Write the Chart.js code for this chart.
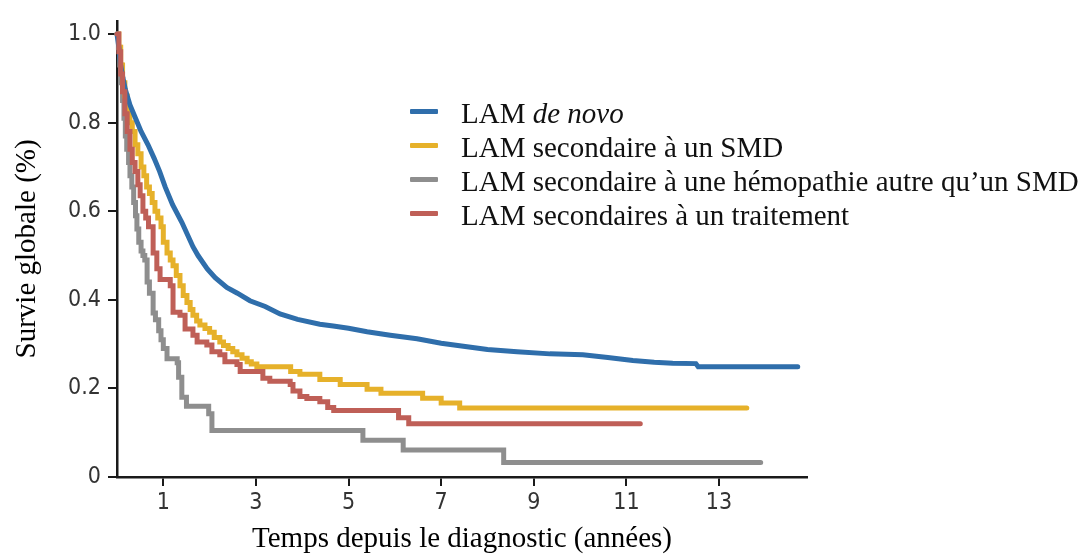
<!DOCTYPE html>
<html lang="fr">
<head>
<meta charset="utf-8">
<title>Survie globale LAM</title>
<script src="https://cdn.jsdelivr.net/npm/chart.js@4.4.1/dist/chart.umd.min.js"></script>
<style>
  html, body { margin: 0; padding: 0; background: #fff; }
  #wrap { position: relative; width: 1089px; height: 559px; }
  #legend { position: absolute; left: 410px; top: 96px; font-family: "Liberation Serif", "Times New Roman", serif; font-size: 29px; color: #111; }
  #legend .row { display: flex; align-items: center; height: 34px; white-space: nowrap; }
  #legend .mark { width: 28px; height: 5px; margin-right: 23px; margin-top: -3px; border-radius: 1px; }
</style>
</head>
<body>
<div id="wrap">
  <canvas id="survChart"></canvas>
  <div id="legend"></div>
</div>
<script>
// time (years) / survival
const deNovoT = [0, 0.04, 0.08, 0.13, 0.18, 0.28, 0.4, 0.52, 0.67, 0.8, 0.92, 1.04, 1.2, 1.4, 1.64, 1.75, 1.95, 2.12, 2.37, 2.6, 2.87, 3.2, 3.52, 3.9, 4.38, 4.67, 5.0, 5.4, 5.9, 6.48, 7.0, 7.56, 8.0, 8.64, 9.35, 10.06, 10.6, 11.14, 11.6, 12.0, 12.5, 12.55, 14.7];
const deNovoS = [1.0, 0.97, 0.93, 0.9, 0.875, 0.84, 0.81, 0.78, 0.75, 0.72, 0.69, 0.655, 0.615, 0.575, 0.52, 0.5, 0.47, 0.45, 0.428, 0.415, 0.398, 0.385, 0.368, 0.356, 0.345, 0.341, 0.336, 0.328, 0.32, 0.312, 0.302, 0.294, 0.288, 0.283, 0.278, 0.276, 0.27, 0.263, 0.259, 0.257, 0.256, 0.249, 0.249];

const smdT = [0, 0.04, 0.08, 0.12, 0.17, 0.22, 0.28, 0.33, 0.39, 0.45, 0.52, 0.58, 0.64, 0.7, 0.76, 0.82, 0.88, 0.95, 1.0, 1.08, 1.15, 1.21, 1.28, 1.36, 1.43, 1.51, 1.58, 1.64, 1.72, 1.79, 1.9, 2.0, 2.1, 2.22, 2.3, 2.4, 2.5, 2.59, 2.7, 2.81, 2.9, 3.02, 3.75, 3.95, 4.38, 4.82, 5.4, 5.7, 6.6, 7.0, 7.4, 13.6];
const smdS = [1.0, 0.97, 0.93, 0.89, 0.86, 0.83, 0.8, 0.78, 0.75, 0.73, 0.7, 0.68, 0.655, 0.64, 0.62, 0.6, 0.585, 0.565, 0.53, 0.506, 0.49, 0.477, 0.455, 0.432, 0.41, 0.394, 0.378, 0.365, 0.352, 0.343, 0.335, 0.327, 0.315, 0.305, 0.297, 0.29, 0.283, 0.276, 0.268, 0.26, 0.255, 0.249, 0.238, 0.232, 0.22, 0.209, 0.198, 0.189, 0.178, 0.167, 0.156, 0.156];

const hemoT = [0, 0.03, 0.06, 0.09, 0.12, 0.15, 0.18, 0.21, 0.25, 0.28, 0.32, 0.36, 0.4, 0.43, 0.47, 0.52, 0.56, 0.6, 0.65, 0.7, 0.78, 0.83, 0.9, 0.95, 1.0, 1.08, 1.3, 1.33, 1.4, 1.5, 1.98, 2.05, 5.31, 6.18, 8.35, 13.9];
const hemoS = [1.0, 0.97, 0.93, 0.89, 0.85, 0.81, 0.77, 0.74, 0.71, 0.68, 0.655, 0.62, 0.59, 0.56, 0.53, 0.51, 0.5, 0.49, 0.44, 0.415, 0.37, 0.355, 0.33, 0.31, 0.29, 0.267, 0.258, 0.225, 0.18, 0.16, 0.143, 0.105, 0.083, 0.061, 0.033, 0.033];

const traitT = [0, 0.04, 0.08, 0.12, 0.17, 0.22, 0.28, 0.33, 0.39, 0.45, 0.5, 0.56, 0.62, 0.68, 0.78, 0.86, 0.93, 1.15, 1.21, 1.36, 1.47, 1.64, 1.73, 1.94, 2.05, 2.22, 2.33, 2.59, 2.66, 3.15, 3.3, 3.74, 3.8, 3.95, 4.1, 4.38, 4.55, 4.68, 6.08, 6.3, 11.3];
const traitS = [1.0, 0.96, 0.91, 0.87, 0.82, 0.78, 0.74, 0.71, 0.69, 0.66, 0.635, 0.6, 0.585, 0.565, 0.506, 0.47, 0.446, 0.432, 0.372, 0.365, 0.334, 0.32, 0.305, 0.298, 0.283, 0.276, 0.26, 0.254, 0.238, 0.223, 0.216, 0.209, 0.194, 0.182, 0.177, 0.17, 0.157, 0.15, 0.134, 0.12, 0.12];

const xTicks = [1, 3, 5, 7, 9, 11, 13];
const yTicks = [0, 0.2, 0.4, 0.6, 0.8, 1.0];

const seriesNames = ['LAM <i>de novo</i>', 'LAM secondaire à un SMD', 'LAM secondaire à une hémopathie autre qu’un SMD', 'LAM secondaires à un traitement'];
const seriesColors = ['#2f6eab', '#e6b12a', '#8e8e8e', '#bf5f57'];

function toPoints(ts, ss) {
  return ts.map((t, i) => ({ x: t, y: ss[i] }));
}

const datasets = [
  { data: toPoints(deNovoT, deNovoS), borderColor: seriesColors[0], stepped: false, order: 1 },
  { data: toPoints(smdT, smdS), borderColor: seriesColors[1], stepped: true, order: 2 },
  { data: toPoints(hemoT, hemoS), borderColor: seriesColors[2], stepped: true, order: 3 },
  { data: toPoints(traitT, traitS), borderColor: seriesColors[3], stepped: true, order: 0 }
];
datasets.forEach(d => {
  d.borderWidth = 5;
  d.pointRadius = 0;
  d.fill = false;
  d.tension = 0;
  d.borderCapStyle = 'round';
  d.borderJoinStyle = 'miter';
  d.clip = 8;
});

// html legend (needed for the italic "de novo")
const legend = document.getElementById('legend');
seriesNames.forEach((name, i) => {
  const row = document.createElement('div');
  row.className = 'row';
  row.innerHTML = '<span class="mark" style="background:' + seriesColors[i] + '"></span><span>' + name + '</span>';
  legend.appendChild(row);
});

const tickFont = { family: '"Liberation Sans Narrow", "DejaVu Sans Condensed", "Roboto Condensed", sans-serif', size: 23 };
const titleFont = { family: '"Liberation Serif", "Times New Roman", serif', size: 29 };

const ctx = document.getElementById('survChart').getContext('2d');
new Chart(ctx, {
  type: 'line',
  data: { datasets: datasets },
  options: {
    responsive: true,
    maintainAspectRatio: false,
    animation: false,
    layout: { padding: { left: 0, top: 14, right: 282, bottom: 0 } },
    plugins: {
      legend: { display: false },
      tooltip: { enabled: false }
    },
    scales: {
      x: {
        type: 'linear',
        min: 0,
        max: 14.9,
        afterBuildTicks: scale => { scale.ticks = xTicks.map(v => ({ value: v })); },
        afterFit: scale => { scale.height = 82; },
        border: { display: true, color: '#1a1a1a', width: 2.5 },
        grid: { display: true, drawOnChartArea: false, drawTicks: true, tickLength: 9, color: '#1a1a1a', lineWidth: 2 },
        ticks: { color: '#333', font: tickFont, padding: 3, maxRotation: 0 },
        title: { display: true, text: 'Temps depuis le diagnostic (années)', color: '#000', font: titleFont, padding: { top: 0, bottom: 2 } }
      },
      y: {
        min: 0,
        max: 1.03,
        afterBuildTicks: scale => { scale.ticks = yTicks.map(v => ({ value: v })); },
        afterFit: scale => { scale.width = 117; },
        border: { display: true, color: '#1a1a1a', width: 2.5 },
        grid: { display: true, drawOnChartArea: false, drawTicks: true, tickLength: 9, color: '#1a1a1a', lineWidth: 2 },
        ticks: {
          color: '#333',
          font: tickFont,
          padding: 7,
          callback: v => (v === 0 ? '0' : v.toFixed(1))
        },
        title: { display: true, text: 'Survie globale (%)', color: '#000', font: titleFont, padding: { top: 10, bottom: 0 } }
      }
    }
  }
});
</script>
</body>
</html>
